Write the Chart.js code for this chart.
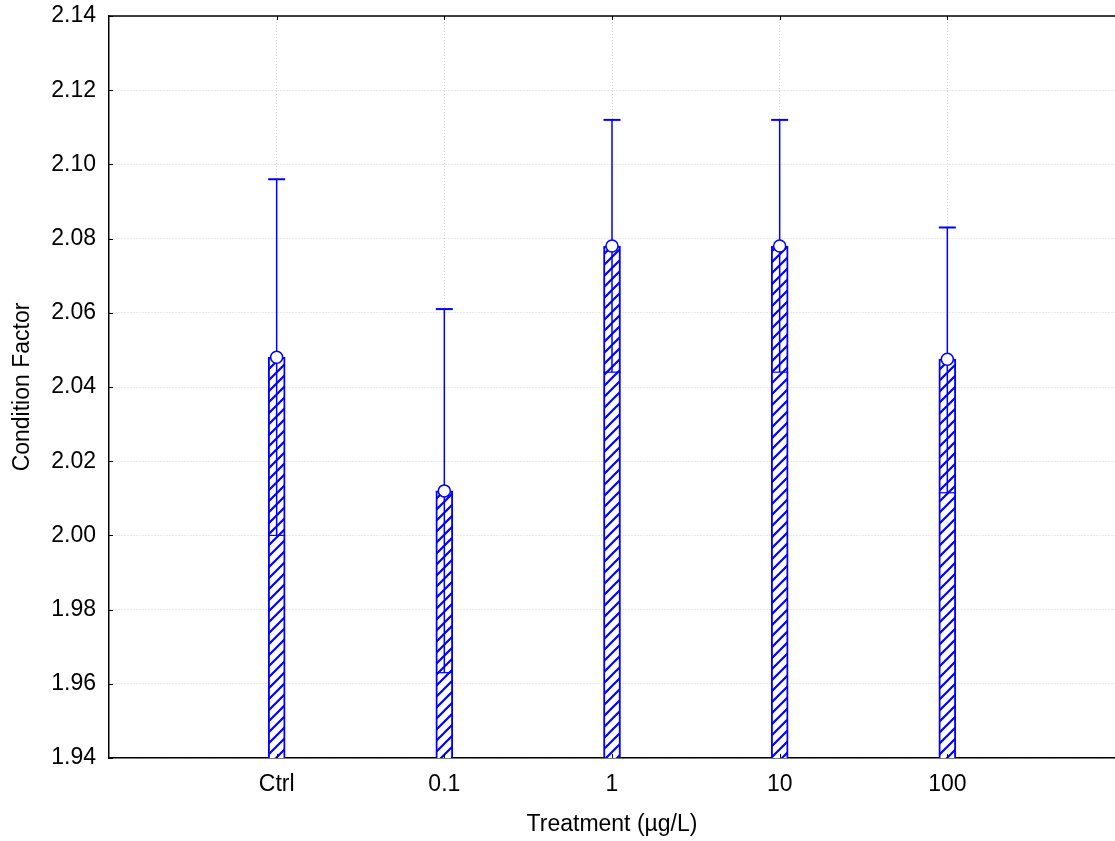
<!DOCTYPE html>
<html>
<head>
<meta charset="utf-8">
<script src="https://cdn.jsdelivr.net/npm/chart.js@4.4.0/dist/chart.umd.min.js"></script>
<style>
  html, body { margin: 0; padding: 0; background: #ffffff; }
  #wrap { width: 1115px; height: 841px; }
</style>
</head>
<body>
<div id="wrap"><canvas id="c" width="1115" height="841"></canvas></div>
<script>
// ---- data ----
const categories = ['Ctrl', '0.1', '1', '10', '100'];
const meanValues = [2.048, 2.012, 2.078, 2.078, 2.0475];
const upperValues = [2.096, 2.061, 2.112, 2.112, 2.083];
const lowerValues = [2.000, 1.963, 2.044, 2.044, 2.0115];
const yTickMin = 1.94;
const yTickMax = 2.14;
const yTickStep = 0.02;
const xTitle = 'Treatment (µg/L)';
const yTitle = 'Condition Factor';

// padded labels so categories sit at 1..5 of a 0..6 span
const labels = [''].concat(categories, ['']);
const barData = [null].concat(meanValues, [null]);

const BLUE = '#0000ff';
const GRID = '#d2d2d2';
const FONT = { family: '"Liberation Sans", Arial, sans-serif', size: 23 };

function hatchPattern() {
  const s = 11;
  const pc = document.createElement('canvas');
  pc.width = s; pc.height = s;
  const p = pc.getContext('2d');
  p.fillStyle = '#ffffff';
  p.fillRect(0, 0, s, s);
  p.strokeStyle = BLUE;
  p.lineWidth = 2.2;
  p.beginPath();
  p.moveTo(-1, s + 1); p.lineTo(s + 1, -1);
  p.moveTo(-2, 2); p.lineTo(2, -2);
  p.moveTo(s - 2, s + 2); p.lineTo(s + 2, s - 2);
  p.stroke();
  return document.getElementById('c').getContext('2d').createPattern(pc, 'repeat');
}

const errorBarPlugin = {
  id: 'errorBars',
  afterDatasetDraw(chart, args) {
    if (args.index !== 0) return;
    const ctx = chart.ctx;
    const y = chart.scales.y;
    const meta = chart.getDatasetMeta(0);
    ctx.save();
    ctx.strokeStyle = BLUE;
    categories.forEach((c, i) => {
      const el = meta.data[i + 1];
      const x = el.x;
      const half = el.width / 2;
      const yu = y.getPixelForValue(upperValues[i]);
      const yl = y.getPixelForValue(lowerValues[i]);
      ctx.lineWidth = 1.5;
      ctx.beginPath();
      ctx.moveTo(x, yu); ctx.lineTo(x, yl);
      ctx.stroke();
      ctx.lineWidth = 2;
      ctx.beginPath();
      ctx.moveTo(x - half, yu); ctx.lineTo(x + half, yu);
      ctx.stroke();
      ctx.lineWidth = 1.2;
      ctx.beginPath();
      ctx.moveTo(x - half, yl); ctx.lineTo(x + half, yl);
      ctx.stroke();
    });
    ctx.restore();
  }
};

const framePlugin = {
  id: 'frame',
  afterDraw(chart) {
    const ctx = chart.ctx;
    const a = chart.chartArea;
    const xs = chart.scales.x, ys = chart.scales.y;
    ctx.save();
    ctx.strokeStyle = '#000000';
    ctx.lineWidth = 1.5;
    ctx.beginPath();
    ctx.moveTo(a.left, a.top); ctx.lineTo(a.right, a.top);
    ctx.stroke();
    ctx.lineWidth = 1;
    ctx.beginPath();
    ys.ticks.forEach(t => {
      const py = Math.round(ys.getPixelForValue(t.value)) + 0.5;
      ctx.moveTo(a.left, py); ctx.lineTo(a.left + 4, py);
    });
    categories.forEach((c, i) => {
      const px = Math.round(xs.getPixelForValue(i + 1)) + 0.5;
      ctx.moveTo(px, a.top); ctx.lineTo(px, a.top + 4);
      ctx.moveTo(px, a.bottom); ctx.lineTo(px, a.bottom - 4);
    });
    ctx.stroke();
    ctx.restore();
  }
};

new Chart(document.getElementById('c'), {
  type: 'bar',
  data: {
    labels: labels,
    datasets: [
      {
        label: 'bars',
        data: barData,
        backgroundColor: hatchPattern(),
        borderColor: BLUE,
        borderWidth: 2,
        barThickness: 17,
        order: 2
      },
      {
        type: 'line',
        label: 'means',
        data: barData,
        showLine: false,
        pointRadius: 6,
        pointBackgroundColor: '#ffffff',
        pointBorderColor: BLUE,
        pointBorderWidth: 1.5,
        order: 1
      }
    ]
  },
  options: {
    responsive: false,
    animation: false,
    devicePixelRatio: 1,
    layout: { autoPadding: false, padding: { top: 16, right: 0, left: 0, bottom: 0 } },
    plugins: { legend: { display: false }, tooltip: { enabled: false } },
    scales: {
      x: {
        type: 'category',
        offset: false,
        grid: {
          display: true,
          offset: false,
          drawTicks: false,
          color: (ctx) => (labels[ctx.index] === '' ? 'rgba(0,0,0,0)' : GRID),
          lineWidth: 1
        },
        border: { display: true, color: '#000000', width: 1.5, dash: [1, 2] },
        ticks: { color: '#000000', font: FONT, padding: 13, maxRotation: 0, autoSkip: false },
        title: { display: true, text: xTitle, color: '#000000', font: FONT, padding: { top: 0, bottom: 3 } },
        afterFit: (s) => { s.height = 83; s.paddingLeft = 0; s.paddingRight = 0; }
      },
      y: {
        min: yTickMin,
        max: yTickMax,
        grid: { display: true, drawTicks: false, color: GRID, lineWidth: 1 },
        border: { display: true, color: '#000000', width: 1.5, dash: [1, 2] },
        ticks: {
          stepSize: yTickStep,
          color: '#000000',
          font: FONT,
          padding: 13,
          callback: (v) => Number(v).toFixed(2)
        },
        title: { display: true, text: yTitle, color: '#000000', font: FONT, padding: { top: 9, bottom: 0 } },
        afterFit: (s) => { s.width = 109; s.paddingTop = 0; s.paddingBottom = 0; }
      }
    }
  },
  plugins: [errorBarPlugin, framePlugin]
});
</script>
</body>
</html>
